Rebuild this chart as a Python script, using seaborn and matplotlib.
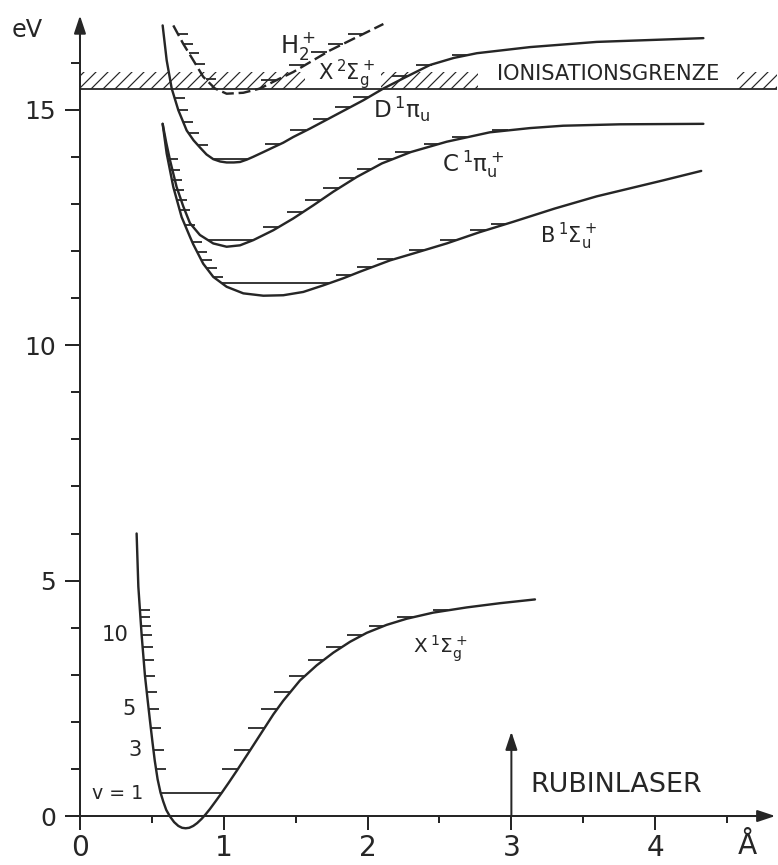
import numpy as np
import matplotlib.pyplot as plt
import seaborn as sns

# potential curves of H2 / H2+: r in Angstrom, E in eV
r_X1 = [0.394, 0.406, 0.429, 0.452, 0.470, 0.487, 0.505, 0.520, 0.540, 0.560, 0.579,
        0.600, 0.626, 0.655, 0.684, 0.710, 0.735, 0.760, 0.788, 0.815, 0.846, 0.875,
        0.904, 0.945, 0.985, 1.035, 1.090, 1.182, 1.275, 1.345, 1.414, 1.530, 1.646,
        1.762, 1.878, 1.994, 2.133, 2.272, 2.457, 2.689, 2.921, 3.164]
E_X1 = [6.00, 4.87, 3.84, 2.98, 2.48, 2.02, 1.55, 1.18, 0.78, 0.50, 0.31,
        0.13, -0.01, -0.13, -0.21, -0.25, -0.26, -0.25, -0.21, -0.15, -0.06, 0.04,
        0.15, 0.32, 0.49, 0.71, 0.96, 1.39, 1.83, 2.16, 2.45, 2.88, 3.20,
        3.47, 3.70, 3.89, 4.06, 4.19, 4.32, 4.43, 4.52, 4.60]
lev_X1 = [0.48, 0.99, 1.40, 1.86, 2.27, 2.63, 2.98, 3.32, 3.59, 3.84, 4.04, 4.22, 4.37]

r_B1 = [0.575, 0.603, 0.649, 0.707, 0.765, 0.788, 0.857, 0.927, 1.020, 1.136, 1.275,
        1.414, 1.553, 1.692, 1.831, 1.947, 2.156, 2.300, 2.550, 2.780, 3.013, 3.300,
        3.593, 4.056, 4.320]
E_B1 = [14.70, 14.07, 13.36, 12.72, 12.30, 12.14, 11.73, 11.45, 11.24, 11.10, 11.05,
        11.06, 11.13, 11.27, 11.42, 11.56, 11.80, 11.93, 12.16, 12.40, 12.62, 12.90,
        13.16, 13.50, 13.70]
base_B1 = 11.32
left_B1 = [11.45, 11.63, 11.80, 11.98, 12.19, 12.55, 12.87, 13.08, 13.29, 13.50, 13.72, 13.96]
right_B1 = [11.49, 11.66, 11.82, 12.02, 12.23, 12.44, 12.58]

r_C1 = [0.575, 0.600, 0.626, 0.672, 0.718, 0.765, 0.834, 0.927, 1.020, 1.113, 1.205,
        1.344, 1.483, 1.623, 1.762, 1.924, 2.100, 2.300, 2.550, 2.850, 3.130, 3.360,
        3.755, 4.335]
E_C1 = [14.70, 14.30, 13.93, 13.36, 12.95, 12.59, 12.34, 12.16, 12.09, 12.12, 12.23,
        12.44, 12.69, 12.97, 13.26, 13.57, 13.86, 14.10, 14.32, 14.52, 14.61, 14.66,
        14.69, 14.70]
base_C1 = 12.24
left_C1 = []
right_C1 = [12.51, 12.83, 13.08, 13.33, 13.54, 13.75, 13.96, 14.10, 14.28, 14.42, 14.56]

r_D1 = [0.575, 0.603, 0.638, 0.684, 0.742, 0.790, 0.834, 0.880, 0.927, 0.975, 1.020,
        1.070, 1.113, 1.160, 1.205, 1.275, 1.344, 1.414, 1.483, 1.600, 1.785, 1.970,
        2.110, 2.270, 2.434, 2.600, 2.760, 3.130, 3.593, 4.335]
E_D1 = [16.79, 16.05, 15.45, 14.99, 14.56, 14.35, 14.20, 14.05, 13.95, 13.90, 13.88,
        13.88, 13.89, 13.94, 14.00, 14.10, 14.20, 14.30, 14.42, 14.60, 14.90, 15.20,
        15.45, 15.70, 15.95, 16.10, 16.20, 16.33, 16.44, 16.52]
base_D1 = 13.96
left_D1 = [14.25, 14.50, 14.74, 14.99, 15.24]
right_D1 = [14.28, 14.56, 14.81, 15.06, 15.27, 15.72, 15.96, 16.16]

r_H2p = [0.649, 0.718, 0.788, 0.857, 0.939, 1.020, 1.136, 1.252, 1.368, 1.483, 1.600,
         1.739, 1.878, 2.110]
E_H2p = [16.79, 16.40, 16.05, 15.70, 15.45, 15.34, 15.36, 15.45, 15.63, 15.80, 16.01,
         16.26, 16.47, 16.82]
left_H2p = [15.65, 15.98, 16.20, 16.40, 16.61]
right_H2p = [15.63, 15.94, 16.22, 16.40, 16.61]

ion_limit = 15.45
ion_band_top = 15.80
hatch_spans = [(0.0, 1.565), (2.09, 2.77), (4.57, 4.85)]

laser_r = 3.0
laser_E = 1.79

xticks = [0, 1, 2, 3, 4]
yticks = [0, 5, 10, 15]
level_labels = ['v = 1', '3', '5', '10']
level_label_idx = [0, 2, 4, 9]

ink = '#262626'

sns.set_theme(style='white')
plt.rcParams['font.family'] = ['DejaVu Sans']
plt.rcParams['mathtext.fontset'] = 'dejavusans'
plt.rcParams['hatch.linewidth'] = 1.2


def crossings(r, E, level):
    r = np.asarray(r)
    E = np.asarray(E)
    i = int(np.argmin(E))
    left = np.interp(level, E[:i + 1][::-1], r[:i + 1][::-1])
    right = np.interp(level, E[i:], r[i:])
    return left, right


def draw_state(ax, r, E, base, left_lev, right_lev, dashed=False):
    ls = (0, (5, 2)) if dashed else '-'
    sns.lineplot(x=r, y=E, ax=ax, color=ink, linewidth=2.4, linestyle=ls,
                 estimator=None, sort=False)
    if base is not None:
        a, b = crossings(r, E, base)
        ax.hlines(base, a, b, color=ink, lw=1.8)
    for lv in left_lev:
        a, _ = crossings(r, E, lv)
        ax.hlines(lv, a, a + 0.07, color=ink, lw=1.8)
    for lv in right_lev:
        _, b = crossings(r, E, lv)
        ax.hlines(lv, b - 0.11, b, color=ink, lw=1.8)


fig = plt.figure(figsize=(778 / 72, 865 / 72), dpi=72)
ax = fig.add_axes([0, 0, 1, 1])

# ionisation limit with hatched band
for a, b in hatch_spans:
    ax.fill_between([a, b], ion_limit, ion_band_top, facecolor='none',
                    edgecolor=ink, hatch='//', linewidth=0)
ax.hlines(ion_limit, 0, 4.85, color=ink, lw=1.8)

draw_state(ax, r_X1, E_X1, lev_X1[0], lev_X1[1:], lev_X1[1:])
draw_state(ax, r_B1, E_B1, base_B1, left_B1, right_B1)
draw_state(ax, r_C1, E_C1, base_C1, left_C1, right_C1)
draw_state(ax, r_D1, E_D1, base_D1, left_D1, right_D1)
draw_state(ax, r_H2p, E_H2p, None, left_H2p, right_H2p, dashed=True)

# vibrational quantum numbers on the ground state
label_x = [0.44, 0.43, 0.385, 0.335]
for lab, i, lx in zip(level_labels, level_label_idx, label_x):
    ax.text(lx, lev_X1[i], lab, ha='right', va='center', color=ink,
            fontsize=19 if lab.startswith('v') else 21)

# state labels
ax.text(1.39, 16.20, r'$\mathrm{H}_2^+$', fontsize=24, color=ink, va='baseline')
ax.text(1.655, 15.63, r'$\mathrm{X}\,{}^2\Sigma_\mathrm{g}^+$', fontsize=21, color=ink,
        va='baseline')
ax.text(2.04, 14.82, r'$\mathrm{D}\,{}^1\mathrm{\pi}_\mathrm{u}$', fontsize=23, color=ink,
        va='baseline')
ax.text(2.515, 13.68, r'$\mathrm{C}\,{}^1\mathrm{\pi}_\mathrm{u}^+$', fontsize=23, color=ink,
        va='baseline')
ax.text(3.199, 12.16, r'$\mathrm{B}\,{}^1\Sigma_\mathrm{u}^+$', fontsize=21, color=ink,
        va='baseline')
ax.text(2.318, 3.454, r'$\mathrm{X}\,{}^1\Sigma_\mathrm{g}^+$', fontsize=20, color=ink,
        va='baseline')
ax.text(3.672, 15.63, 'IONISATIONSGRENZE', fontsize=21, color=ink, ha='center',
        va='baseline')

# ruby laser photon energy
ax.annotate('', xy=(laser_r, laser_E), xytext=(laser_r, 0),
            arrowprops=dict(arrowstyle='-|>,head_length=0.75,head_width=0.25',
                            color=ink, lw=2, shrinkA=0, shrinkB=0, mutation_scale=20))
ax.text(3.726, 0.516, 'RUBINLASER', fontsize=27, color=ink, ha='center', va='baseline')

# axes with arrow heads
ax.set_xlim(-0.556, 4.854)
ax.set_ylim(-1.04, 17.33)
ax.set_xlabel('')
ax.set_ylabel('')
for s in ['top', 'right']:
    ax.spines[s].set_visible(False)
for s in ['left', 'bottom']:
    ax.spines[s].set_position(('data', 0))
    ax.spines[s].set_color(ink)
    ax.spines[s].set_linewidth(2)
ax.spines['left'].set_bounds(0, 16.8)
ax.spines['bottom'].set_bounds(0, 4.7)
ax.annotate('', xy=(0, 17.0), xytext=(0, 16.5),
            arrowprops=dict(arrowstyle='-|>,head_length=0.75,head_width=0.25',
                            color=ink, lw=2, shrinkA=0, shrinkB=0, mutation_scale=20))
ax.annotate('', xy=(4.835, 0), xytext=(4.5, 0),
            arrowprops=dict(arrowstyle='-|>,head_length=0.75,head_width=0.25',
                            color=ink, lw=2, shrinkA=0, shrinkB=0, mutation_scale=20))

ax.set_xticks(xticks)
ax.set_xticks([0.5, 1.5, 2.5, 3.5, 4.5], minor=True)
ax.set_yticks(yticks)
ax.set_yticks([1, 2, 3, 4, 6, 7, 8, 9, 11, 12, 13, 14, 16], minor=True)
ax.set_xticklabels([str(t) for t in xticks])
ax.set_yticklabels([str(t) for t in yticks])
ax.tick_params(axis='x', which='major', bottom=True, direction='out', length=14, width=2,
               labelsize=28, pad=4, color=ink, labelcolor=ink)
ax.tick_params(axis='x', which='minor', bottom=True, direction='out', length=7, width=2,
               color=ink)
ax.tick_params(axis='y', which='major', left=True, direction='out', length=15, width=2,
               labelsize=25, pad=9, color=ink, labelcolor=ink)
ax.tick_params(axis='y', which='minor', left=True, direction='out', length=9, width=2,
               color=ink)

ax.text(-0.365, 16.69, 'eV', fontsize=24, color=ink, ha='center', va='center')
ax.text(4.638, -0.64, 'Å', fontsize=28, color=ink, ha='center', va='center')

fig.savefig('out.png', dpi=72)
